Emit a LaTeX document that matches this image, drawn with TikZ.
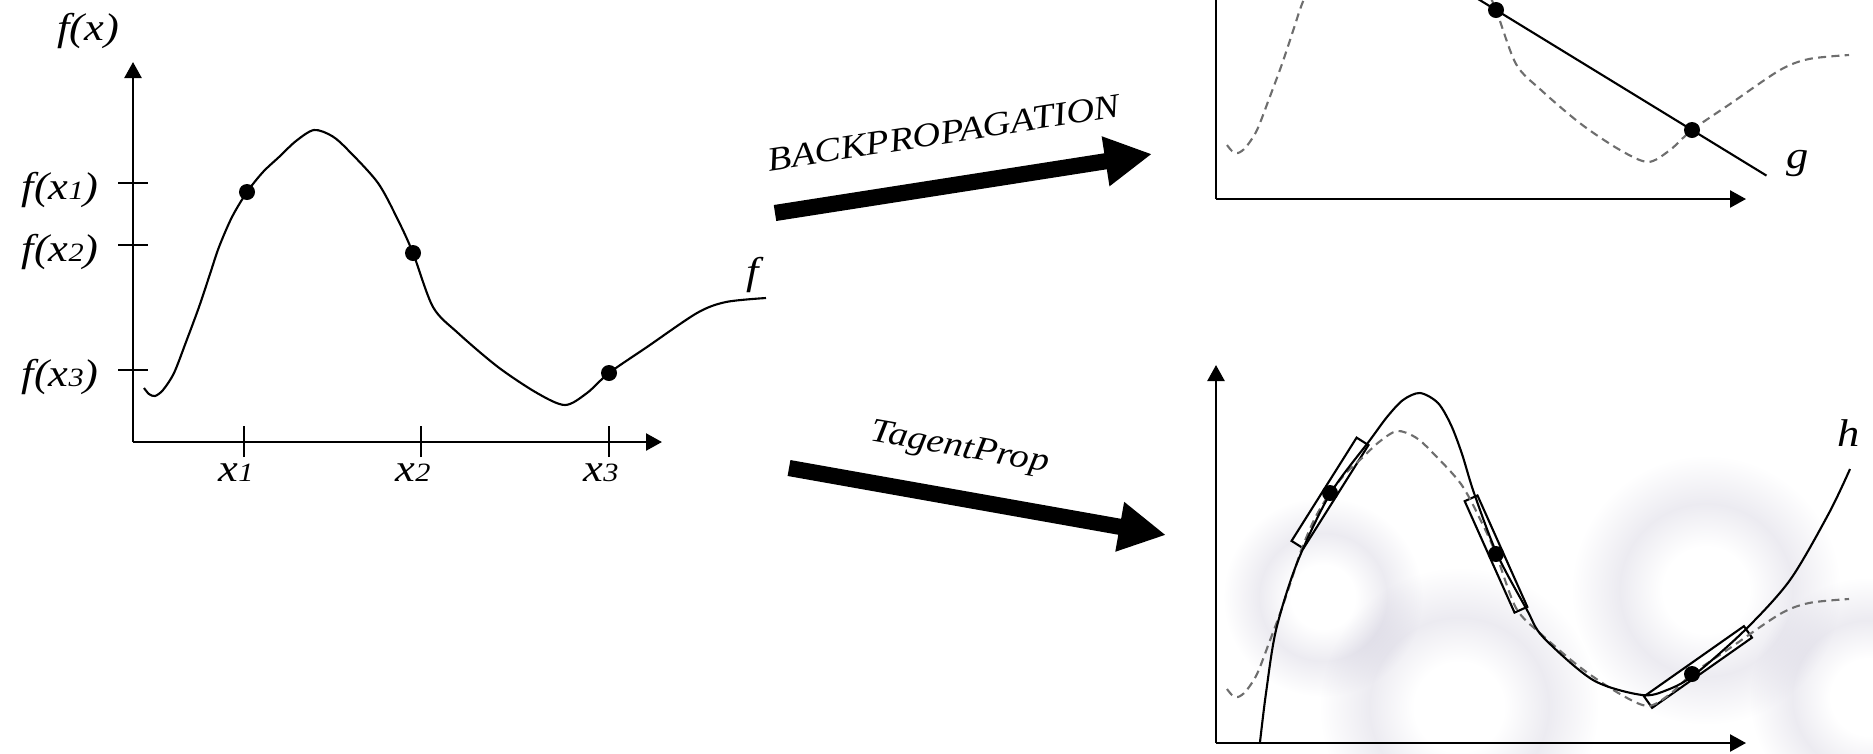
\documentclass[tikz,border=0pt]{standalone}
\usepackage{fontspec}
\setmainfont{Liberation Serif}
\usetikzlibrary{arrows.meta,calc}

\definecolor{oldgray}{RGB}{110,110,110}
\definecolor{haze}{RGB}{236,235,241}

% soft out-of-focus rings behind the lower right panel
\pgfdeclareradialshading{bokeh}{\pgfpoint{0bp}{0bp}}{%
  color(0bp)=(white); color(8bp)=(white); color(16bp)=(haze); color(25bp)=(white);
  color(50bp)=(white)}

\newcommand{\ix}[1]{{\fontsize{7.5pt}{8pt}\selectfont #1}}
% the target function f, used again in both right panels
\newcommand{\fcurve}{plot[smooth] coordinates {(11,54) (16,48) (22,46) (30,52)
  (41,69) (53,100) (66,135) (77,168) (86,195) (99,225) (114,250) (130,270)
  (146,285) (163,301) (181,312) (199,306) (215,292) (245,259) (265,222) (280,189)
  (300,135) (325,109) (365,75) (404,49) (432,37) (454,49) (476,69) (514,95)
  (564,129) (593,140) (633,144)}}

\tikzset{
  axis/.style={line width=.7pt,-{Triangle[length=.16cm,width=.17cm]}},
  notch/.style={line width=.7pt},
  curve/.style={line width=.6pt},
  target/.style={line width=.6pt,oldgray,dash pattern=on 2.3pt off 1.5pt},
  dot/.style={circle,fill,inner sep=0pt,minimum size=.16cm},
  tanbox/.style={draw,fill=white,line width=.6pt,inner sep=0pt,
    minimum width=1.22cm,minimum height=.14cm},
  bigarrow/.style={line width=4.6pt,-{Triangle[length=.47cm,width=.47cm]}},
  lab/.style={font=\fontsize{11pt}{13pt}\selectfont\itshape,xscale=1.15},
  arrowlab/.style={font=\fontsize{9.6pt}{12pt}\selectfont\itshape,xscale=1.15,sloped},
}

\begin{document}
\begin{tikzpicture}[x=0.01cm,y=0.01cm]
    \useasboundingbox (0,0) rectangle (1873,753);
    \clip (0,0) rectangle (1873,753);
    \begin{scope}[blend mode=multiply]
      \foreach \cx/\cy/\r in {1706/163/135, 1459/46/140, 1869/56/120, 1323/156/100}
        \shade[shading=bokeh] (\cx,\cy) circle[radius=\r];
    \end{scope}

    % f with three samples
    \begin{scope}[shift={(133,311)}]
      \draw[axis] (0,0) -- (0,380);
      \draw[axis] (0,0) -- (529,0);
      \node[lab] (fx) at (-45,411) {f(x)};
      \foreach \i/\tx/\ty in {1/111/259, 2/288/197, 3/476/72} {
        \draw[notch] (-15,\ty) -- (15,\ty);
        \draw[notch] (\tx,-15) -- (\tx,16);
        \node[lab,anchor=east] (fx\i) at (-20,\ty-7) {f(x\ix{\i})};
        \node[lab] (x\i) at (\tx-8,-31) {x\ix{\i}};
      }
      \draw[curve] \fcurve;
      \node[dot] (l1) at (114,250) {};
      \node[dot] (l2) at (280,189) {};
      \node[dot] (l3) at (476,69) {};
      \node[lab] (flab) at (620,167) {f};
    \end{scope}

    % fitted with backpropagation
    \begin{scope}[shift={(1216,554)}]
      \draw[axis] (0,0) -- (0,380);
      \draw[axis] (0,0) -- (530,0);
      \draw[target] \fcurve;
      \node[dot] (g2) at (280,189) {};
      \node[dot] (g3) at (476,69) {};
      \draw[curve] ($(g2)!-.3!(g3)$) -- ($(g2)!1.38!(g3)$);
      \node[lab] (glab) at (582,35) {g};
    \end{scope}

    % fitted with tangent prop
    \begin{scope}[shift={(1216,10)}]
      \draw[axis] (0,0) -- (0,378);
      \draw[axis] (0,0) -- (530,0);
      \node[tanbox,rotate=57.8] (b1) at (114,250) {};
      \node[tanbox,rotate=-65.9] (b2) at (280,189) {};
      \node[tanbox,rotate=35.1] (b3) at (482,76) {};
      \draw[target] \fcurve;
      \draw[curve] plot[smooth] coordinates {(44,1) (50,50) (60,113) (81,180)
        (114,249) (154,303) (171,326) (187,343) (204,350) (222,340) (235,318)
        (246,289) (258,250) (281,189) (311,133) (327,106) (377,63) (426,48)
        (451,53) (478,68) (529,113) (574,163) (613,230) (634,274)};
      \node[dot] (h1) at (114,250) {};
      \node[dot] (h2) at (280,189) {};
      \node[dot] (h3) at (476,69) {};
      \node[lab] (hlab) at (633,310) {h};
    \end{scope}

    \coordinate (bp0) at (775,540);
    \coordinate (bp1) at (1152,599);
    \coordinate (tp0) at (789,285);
    \coordinate (tp1) at (1166,218);
    \draw[bigarrow] (bp0) -- node[arrowlab,pos=.47,above=.22cm] (bplab) {BACKPROPAGATION} (bp1);
    \draw[bigarrow] (tp0) -- node[arrowlab,pos=.43,above=.14cm] (tplab) {TagentProp} (tp1);
\end{tikzpicture}
\end{document}
